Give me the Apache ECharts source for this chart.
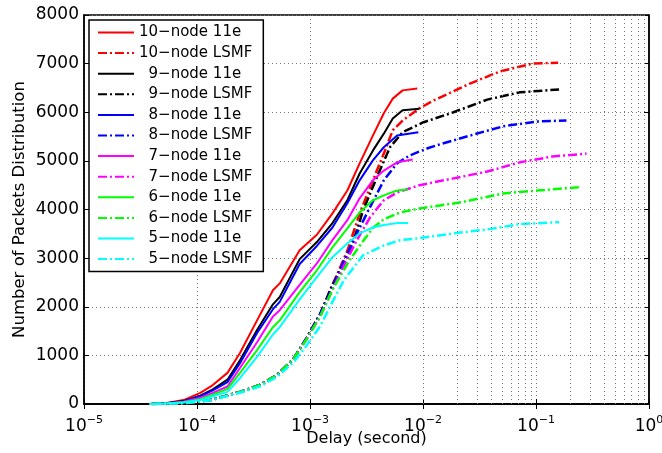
<!DOCTYPE html>
<html>
<head>
<meta charset="utf-8">
<script src="https://cdn.jsdelivr.net/npm/echarts@6/dist/echarts.min.js"></script>
<style>
    html, body {margin: 0; padding: 0; background: #fff;}
    #main {width: 662px; height: 453px;}
</style>
</head>
<body>
<div id="main"></div>
<script>
    //曲线数据 [delay(s), packets]
    var red11e = [[3.8e-5, 0], [5.4e-5, 20], [7.6e-5, 80], [1.07e-4, 230], [1.38e-4, 390], [1.86e-4, 640], [2.4e-4, 1050], [3.4e-4, 1720], [4.7e-4, 2340], [5.4e-4, 2480], [8.1e-4, 3160], [1.15e-3, 3480], [1.58e-3, 3920], [2.14e-3, 4390], [2.75e-3, 4950], [3.6e-3, 5520], [4.5e-3, 5980], [5.4e-3, 6280], [6.6e-3, 6450], [8.9e-3, 6490]];
    var redLSMF = [[4e-5, 0], [7.9e-5, 20], [1.32e-4, 80], [2.4e-4, 250], [3.6e-4, 390], [5.1e-4, 600], [7.1e-4, 920], [9.3e-4, 1350], [1.23e-3, 1850], [1.58e-3, 2450], [2.14e-3, 3150], [2.75e-3, 3920], [3.6e-3, 4600], [4.5e-3, 5150], [5.4e-3, 5630], [6.6e-3, 5830], [9.3e-3, 6080], [1.23e-2, 6240], [1.86e-2, 6430], [2.6e-2, 6590], [4.8e-2, 6840], [9.3e-2, 7000], [0.157, 7020]];
    var black11e = [[3.8e-5, 0], [5.4e-5, 15], [7.6e-5, 60], [1.07e-4, 170], [1.38e-4, 300], [1.86e-4, 500], [2.4e-4, 900], [3.4e-4, 1520], [4.7e-4, 2050], [5.4e-4, 2200], [8.1e-4, 2980], [1.15e-3, 3330], [1.58e-3, 3720], [2.14e-3, 4190], [2.75e-3, 4740], [3.6e-3, 5210], [4.5e-3, 5560], [5.4e-3, 5870], [6.6e-3, 6040], [9.3e-3, 6070]];
    var blackLSMF = [[4e-5, 0], [7.9e-5, 20], [1.32e-4, 80], [2.4e-4, 250], [3.6e-4, 390], [5.1e-4, 600], [7.1e-4, 920], [9.3e-4, 1350], [1.23e-3, 1850], [1.58e-3, 2450], [2.24e-3, 3100], [2.95e-3, 3980], [3.9e-3, 4660], [5.1e-3, 5280], [6.6e-3, 5590], [1e-2, 5790], [1.86e-2, 6000], [3.7e-2, 6260], [7.2e-2, 6410], [0.16, 6470]];
    var blue11e = [[3.8e-5, 0], [5.4e-5, 15], [7.6e-5, 55], [1.07e-4, 160], [1.38e-4, 280], [1.86e-4, 450], [2.4e-4, 840], [3.4e-4, 1460], [4.7e-4, 1950], [5.4e-4, 2100], [8.1e-4, 2880], [1.15e-3, 3250], [1.58e-3, 3630], [2.14e-3, 4130], [2.75e-3, 4600], [3.6e-3, 5010], [4.5e-3, 5280], [5.9e-3, 5520], [9.1e-3, 5590]];
    var blueLSMF = [[4e-5, 0], [7.9e-5, 20], [1.32e-4, 80], [2.4e-4, 250], [3.6e-4, 390], [5.1e-4, 600], [7.1e-4, 920], [9.3e-4, 1350], [1.23e-3, 1850], [1.58e-3, 2400], [2.0e-3, 2950], [2.6e-3, 3510], [3.4e-3, 4050], [4.5e-3, 4600], [5.9e-3, 4950], [7.6e-3, 5110], [1.1e-2, 5260], [1.32e-2, 5320], [2.6e-2, 5520], [5.1e-2, 5710], [0.102, 5810], [0.186, 5830]];
    var magenta11e = [[3.8e-5, 0], [5.4e-5, 10], [7.6e-5, 45], [1.07e-4, 130], [1.38e-4, 230], [1.86e-4, 360], [2.4e-4, 740], [3.4e-4, 1270], [4.7e-4, 1800], [5.4e-4, 1930], [8.1e-4, 2450], [1.15e-3, 2890], [1.58e-3, 3370], [2.14e-3, 3780], [2.75e-3, 4230], [3.6e-3, 4600], [4.5e-3, 4800], [5.9e-3, 4970], [8.1e-3, 5030]];
    var magentaLSMF = [[4e-5, 0], [7.9e-5, 20], [1.32e-4, 80], [2.4e-4, 250], [3.6e-4, 390], [5.1e-4, 600], [7.1e-4, 920], [9.3e-4, 1330], [1.23e-3, 1800], [1.58e-3, 2350], [2.0e-3, 2850], [2.6e-3, 3370], [3.4e-3, 3840], [4.5e-3, 4190], [5.9e-3, 4350], [9.3e-3, 4500], [1.86e-2, 4640], [3.7e-2, 4780], [7.2e-2, 4970], [0.14, 5090], [0.28, 5150]];
    var green11e = [[3.8e-5, 0], [5.4e-5, 10], [7.6e-5, 35], [1.07e-4, 100], [1.38e-4, 190], [1.86e-4, 310], [2.4e-4, 640], [3.4e-4, 1110], [4.7e-4, 1580], [5.4e-4, 1720], [8.1e-4, 2300], [1.15e-3, 2750], [1.58e-3, 3220], [2.14e-3, 3610], [2.75e-3, 3940], [3.6e-3, 4190], [4.5e-3, 4290], [5.9e-3, 4390], [7.4e-3, 4410]];
    var greenLSMF = [[4e-5, 0], [7.9e-5, 20], [1.32e-4, 80], [2.4e-4, 250], [3.6e-4, 390], [5.1e-4, 600], [7.1e-4, 920], [9.3e-4, 1330], [1.23e-3, 1800], [1.58e-3, 2350], [2.24e-3, 2960], [2.95e-3, 3350], [3.6e-3, 3620], [4.5e-3, 3800], [6.3e-3, 3940], [9.3e-3, 4020], [2.2e-2, 4150], [5.1e-2, 4330], [0.102, 4390], [0.245, 4460]];
    var cyan11e = [[3.8e-5, 0], [5.4e-5, 8], [7.6e-5, 30], [1.07e-4, 80], [1.38e-4, 160], [1.86e-4, 250], [2.4e-4, 530], [3.4e-4, 970], [4.7e-4, 1430], [5.4e-4, 1580], [8.1e-4, 2150], [1.15e-3, 2610], [1.58e-3, 3020], [2.14e-3, 3300], [2.75e-3, 3510], [3.6e-3, 3630], [4.5e-3, 3680], [5.9e-3, 3720], [7.4e-3, 3720]];
    var cyanLSMF = [[4e-5, 0], [7.9e-5, 20], [1.32e-4, 75], [2.4e-4, 230], [3.6e-4, 360], [5.1e-4, 560], [7.1e-4, 850], [9.3e-4, 1200], [1.23e-3, 1600], [1.58e-3, 2100], [2.0e-3, 2550], [2.95e-3, 3060], [4.5e-3, 3260], [6.3e-3, 3370], [9.3e-3, 3410], [1.86e-2, 3510], [3.7e-2, 3590], [7.2e-2, 3700], [0.16, 3740]];

    var nodeCounts = [10, 9, 8, 7, 6, 5];
    var nodeColors = ['#ff0000', '#000000', '#0000ff', '#ff00ff', '#00ff00', '#00ffff'];
    var data11e = [red11e, black11e, blue11e, magenta11e, green11e, cyan11e];
    var dataLSMF = [redLSMF, blackLSMF, blueLSMF, magentaLSMF, greenLSMF, cyanLSMF];
    var yTicks = [0, 1000, 2000, 3000, 4000, 5000, 6000, 7000, 8000];

    var FONT = 'DejaVu Sans';
    var gridColor = '#7a7a7a';
    var dotted = [1, 3];

    //次网格线 2..9 x 10^k
    var minorLines = [];
    for (var k = -5; k < 0; k++) {
        for (var m = 2; m <= 9; m++) {
            minorLines.push({xAxis: m * Math.pow(10, k)});
        }
    }

    var series = [{
        name: 'grid',
        type: 'line',
        data: [],
        z: 1,
        silent: true,
        markLine: {
            silent: true,
            animation: false,
            symbol: ['none', 'none'],
            label: {show: false},
            lineStyle: {color: gridColor, type: dotted, width: 1},
            data: minorLines
        }
    }];
    var legendNames = [];
    for (var i = 0; i < nodeCounts.length; i++) {
        var n1 = nodeCounts[i] + '\u2212node 11e';
        var n2 = nodeCounts[i] + '\u2212node LSMF';
        legendNames.push(n1, n2);
        series.push({
            name: n1,
            type: 'line',
            data: data11e[i],
            symbol: 'none',
            z: 3,
            lineStyle: {color: nodeColors[i], width: 2},
            itemStyle: {color: nodeColors[i]}
        });
        series.push({
            name: n2,
            type: 'line',
            data: dataLSMF[i],
            symbol: 'none',
            z: 3,
            lineStyle: {color: nodeColors[i], width: 2.5, type: [9, 3, 2, 3]},
            itemStyle: {color: nodeColors[i]}
        });
    }

    var supNum = function (v) {
        var e = Math.round(Math.log(v) / Math.LN10);
        return '{b|10}{s|' + (e < 0 ? '\u2212' + (-e) : e) + '}';
    };

    var option = {
        animation: false,
        backgroundColor: '#fff',
        grid: {
            left: 84,
            right: 13,
            top: 15,
            bottom: 49,
            outerBoundsMode: 'none',
            show: true,
            borderColor: '#000',
            borderWidth: 1.5
        },
        legend: {
            data: legendNames,
            orient: 'vertical',
            left: 89,
            top: 20,
            padding: [5, 11, 5, 8],
            itemWidth: 36,
            itemHeight: 14,
            itemGap: 5.6,
            itemStyle: {opacity: 0},
            backgroundColor: '#fff',
            borderColor: '#000',
            borderWidth: 1.5,
            borderRadius: 0,
            textStyle: {fontFamily: FONT, fontSize: 15, color: '#000', lineHeight: 15},
            formatter: function (name) {
                return name.charAt(1) === '\u2212' ? '  ' + name : name;
            }
        },
        xAxis: [{
            type: 'log',
            logBase: 10,
            min: 1e-5,
            max: 1,
            splitNumber: 5,
            name: 'Delay (second)',
            nameLocation: 'middle',
            nameGap: 27,
            nameMoveOverlap: false,
            nameTextStyle: {fontFamily: FONT, fontSize: 16, color: '#000'},
            axisLine: {lineStyle: {color: '#000', width: 1.5}},
            axisTick: {inside: true, length: 5, lineStyle: {color: '#000'}},
            axisLabel: {
                margin: 11,
                formatter: supNum,
                rich: {
                    b: {fontFamily: FONT, fontSize: 17, color: '#000', lineHeight: 24},
                    s: {fontFamily: FONT, fontSize: 11, color: '#000', lineHeight: 12, verticalAlign: 'top'}
                }
            },
            splitLine: {show: true, lineStyle: {color: gridColor, type: dotted}}
        }, {
            type: 'log',
            logBase: 10,
            min: 1e-5,
            max: 1,
            splitNumber: 5,
            position: 'top',
            axisLine: {lineStyle: {color: '#000', width: 1.5}},
            axisTick: {inside: true, length: 5, lineStyle: {color: '#000'}},
            axisLabel: {show: false},
            splitLine: {show: false}
        }],
        yAxis: [{
            type: 'value',
            min: yTicks[0],
            max: yTicks[yTicks.length - 1],
            interval: 1000,
            name: 'Number of Packets Distribution',
            nameLocation: 'middle',
            nameGap: 56,
            nameMoveOverlap: false,
            nameTextStyle: {fontFamily: FONT, fontSize: 16.5, color: '#000'},
            axisLine: {show: true, lineStyle: {color: '#000', width: 1.5}},
            axisTick: {show: true, inside: true, length: 5, lineStyle: {color: '#000'}},
            axisLabel: {
                fontFamily: FONT, fontSize: 17, color: '#000', margin: 5,
                formatter: function (v) { return String(v); }
            },
            splitLine: {show: true, lineStyle: {color: gridColor, type: dotted}}
        }, {
            type: 'value',
            min: yTicks[0],
            max: yTicks[yTicks.length - 1],
            interval: 1000,
            position: 'right',
            axisLine: {show: true, lineStyle: {color: '#000', width: 1.5}},
            axisTick: {show: true, inside: true, length: 5, lineStyle: {color: '#000'}},
            axisLabel: {show: false},
            splitLine: {show: false}
        }],
        series: series
    };

    var myChart = echarts.init(document.getElementById('main'));
    myChart.setOption(option);
</script>
</body>
</html>
